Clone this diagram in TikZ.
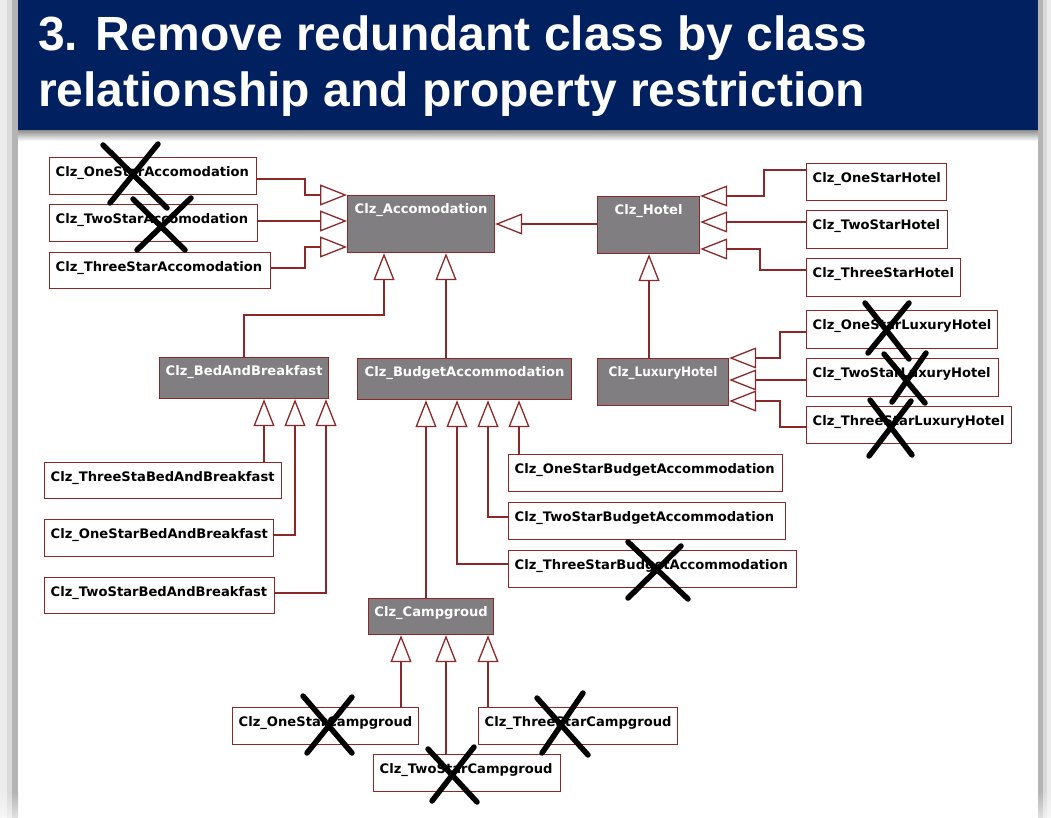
\documentclass[tikz,border=0pt]{standalone}
\usepackage{fontspec}
\setmainfont{DejaVu Sans}
\newfontfamily\titlefont{Liberation Sans}
\usetikzlibrary{arrows.meta}
\definecolor{navy}{RGB}{0,32,96}
\definecolor{umlline}{RGB}{140,40,40}
\definecolor{umlgray}{RGB}{128,126,128}
\definecolor{stripA}{RGB}{236,236,236}
\definecolor{stripB}{RGB}{218,218,218}
\definecolor{stripC}{RGB}{180,180,180}

% plain class box: name, x1, y1, x2, y2, label (label left-aligned)
\newcommand\umlclass[6]{%
  \node[classbox, minimum width={(#4)-(#2)}, minimum height={(#5)-(#3)}, anchor=north west] (#1) at (#2,#3) {};
  \node[classboxtext] (#1-label) at ([xshift=6.5pt,yshift=-19.5pt]#1.north west) {#6};
}
% superclass box: name, x1, y1, x2, y2, label (label centred)
\newcommand\umlsuper[6]{%
  \node[superbox, minimum width={(#4)-(#2)}, minimum height={(#5)-(#3)}, anchor=north west] (#1) at (#2,#3) {};
  \node[superboxtext] (#1-label) at ([yshift=-18.5pt]#1.north) {#6};
}

\begin{document}
\begin{tikzpicture}[x=1pt,y=-1pt,
  classbox/.style={draw=umlline, line width=1.2pt, fill=white, rectangle, inner sep=0pt},
  superbox/.style={classbox, fill=umlgray},
  classboxtext/.style={font=\fontsize{13.1}{15}\selectfont\bfseries, text=black,
    inner sep=0pt, anchor=base west},
  superboxtext/.style={font=\fontsize{13.1}{15}\selectfont\bfseries, text=white,
    inner sep=0pt, anchor=base},
  gen/.style={draw=umlline, line width=1.3pt, -{Triangle[open, length=27pt, width=21pt]}},
  xmark/.style={draw=black, line width=5.5pt, line cap=round},
  titletext/.style={anchor=base west, text=white, inner sep=0pt,
    font=\titlefont\bfseries\fontsize{48}{56}\selectfont},
]
\useasboundingbox (0,0) rectangle (1051,818);
\fill[white] (0,0) rectangle (1051,818);

% side frame strips
\fill[stripA] (0,0) rectangle (7,792);
\fill[stripB] (7,0) rectangle (12,792);
\fill[stripC] (12,0) rectangle (18,792);
\fill[stripC] (1038,0) rectangle (1043,792);
\fill[stripB] (1043,0) rectangle (1047,792);
\fill[stripA] (1047,0) rectangle (1051,792);
\shade[top color=stripA, bottom color=stripA!40!white] (0,792) rectangle (7,818);
\shade[top color=stripB, bottom color=stripB!40!white] (7,792) rectangle (12,818);
\shade[top color=stripC, bottom color=stripC!40!white] (12,792) rectangle (18,818);
\shade[top color=stripC, bottom color=stripC!40!white] (1038,792) rectangle (1043,818);
\shade[top color=stripB, bottom color=stripB!40!white] (1043,792) rectangle (1047,818);
\shade[top color=stripA, bottom color=stripA!40!white] (1047,792) rectangle (1051,818);

% title band with its shadow
\shade[top color=black!45, bottom color=white] (18,130) rectangle (1038,141);
\fill[navy] (18,0) rectangle (1038,130);
\node[titletext] (title1) at (38,51) {3. Remove redundant class by class};
\node[titletext] (title2) at (38,107) {relationship and property restriction};

% superclasses
\umlsuper{acc}{347}{195}{494}{252}{Clz\_Accomodation}
\umlsuper{hot}{597}{196}{699}{253}{Clz\_Hotel}
\umlsuper{bb}{159}{357}{328}{398}{Clz\_BedAndBreakfast}
\umlsuper{bud}{357}{358}{571}{399}{Clz\_BudgetAccommodation}
\umlsuper{lux}{597}{358}{728}{405}{\scalebox{0.92}[1]{Clz\_LuxuryHotel}}
\umlsuper{cg}{368}{598}{493}{634}{Clz\_Campgroud}

% subclasses
\umlclass{a1}{49}{157}{256}{194}{Clz\_OneStarAccomodation}
\umlclass{a2}{49}{204}{257}{241}{Clz\_TwoStarAccomodation}
\umlclass{a3}{49}{252}{270}{288}{Clz\_ThreeStarAccomodation}
\umlclass{h1}{806}{163}{946}{200}{Clz\_OneStarHotel}
\umlclass{h2}{806}{210}{947}{248}{Clz\_TwoStarHotel}
\umlclass{h3}{806}{258}{960}{296}{Clz\_ThreeStarHotel}
\umlclass{l1}{806}{310}{997}{348}{Clz\_OneStarLuxuryHotel}
\umlclass{l2}{806}{358}{998}{396}{Clz\_TwoStarLuxuryHotel}
\umlclass{l3}{806}{406}{1011}{443}{Clz\_ThreeStarLuxuryHotel}
\umlclass{b3}{44}{462}{281}{498}{Clz\_ThreeStaBedAndBreakfast}
\umlclass{b1}{44}{519}{273}{556}{Clz\_OneStarBedAndBreakfast}
\umlclass{b2}{44}{577}{274}{613}{Clz\_TwoStarBedAndBreakfast}
\umlclass{u1}{508}{454}{782}{491}{Clz\_OneStarBudgetAccommodation}
\umlclass{u2}{508}{502}{785}{539}{Clz\_TwoStarBudgetAccommodation}
\umlclass{u3}{508}{550}{796}{587}{Clz\_ThreeStarBudgetAccommodation}
\umlclass{c1}{232}{707}{418}{744}{Clz\_OneStarCampgroud}
\umlclass{c3}{478}{707}{677}{744}{Clz\_ThreeStarCampgroud}
\umlclass{c2}{373}{754}{560}{791}{Clz\_TwoStarCampgroud}

% generalisations into Clz_Accomodation
\draw[gen] (a1.east |- 0,179) -| (305,195) -- (acc.north west);
\draw[gen] (a2.east |- 0,221) -- (acc.west |- 0,221);
\draw[gen] (a3.east |- 0,268) -| (305,247) -- (acc.west |- 0,247);
\draw[gen] (hot.west |- 0,224) -- (acc.east |- 0,224);
\draw[gen] (bb.north) |- (384,315) -- (acc.south -| 384,0);
\draw[gen] (bud.north -| 446,0) -- (acc.south -| 446,0);

% into Clz_Hotel
\draw[gen] (h1.west |- 0,170) -| (764,196) -- (hot.north east);
\draw[gen] (h2.west |- 0,222) -- (hot.east |- 0,222);
\draw[gen] (h3.west |- 0,270) -| (760,249) -- (hot.east |- 0,249);
\draw[gen] (lux.north -| 649,0) -- (hot.south -| 649,0);

% into Clz_LuxuryHotel
\draw[gen] (l1.west |- 0,332) -| (780,358) -- (lux.north east);
\draw[gen] (l2.west |- 0,380) -- (lux.east |- 0,380);
\draw[gen] (l3.west |- 0,427) -| (780,401) -- (lux.east |- 0,401);

% into Clz_BedAndBreakfast
\draw[gen] (b3.north -| 264,0) -- (bb.south -| 264,0);
\draw[gen] (b1.east |- 0,535) -| (bb.south -| 295,0);
\draw[gen] (b2.east |- 0,593) -| (bb.south -| 326,0);

% into Clz_BudgetAccommodation
\draw[gen] (u1.north -| 519,0) -- (bud.south -| 519,0);
\draw[gen] (u2.west |- 0,517) -| (bud.south -| 488,0);
\draw[gen] (u3.west |- 0,564) -| (bud.south -| 457,0);
\draw[gen] (cg.north -| 426,0) -- (bud.south -| 426,0);

% into Clz_Campgroud
\draw[gen] (c1.north -| 401,0) -- (cg.south -| 401,0);
\draw[gen] (c2.north -| 446,0) -- (cg.south -| 446,0);
\draw[gen] (c3.north -| 488,0) -- (cg.south -| 488,0);

% crossed-out classes
\draw[xmark] (103,145) -- (167,208);  \draw[xmark] (158,144) -- (110,203);
\draw[xmark] (133,199) -- (185,250);  \draw[xmark] (191,198) -- (137,250);
\draw[xmark] (865,303) -- (909,359);  \draw[xmark] (909,303) -- (868,353);
\draw[xmark] (884,354) -- (925,403);  \draw[xmark] (926,353) -- (892,402);
\draw[xmark] (870,400) -- (912,455);  \draw[xmark] (911,401) -- (869,456);
\draw[xmark] (628,542) -- (688,599);  \draw[xmark] (681,546) -- (628,598);
\draw[xmark] (303,696) -- (352,753);  \draw[xmark] (352,697) -- (307,753);
\draw[xmark] (537,698) -- (588,755);  \draw[xmark] (583,693) -- (542,753);
\draw[xmark] (428,749) -- (477,802);  \draw[xmark] (474,747) -- (432,801);
\end{tikzpicture}
\end{document}
